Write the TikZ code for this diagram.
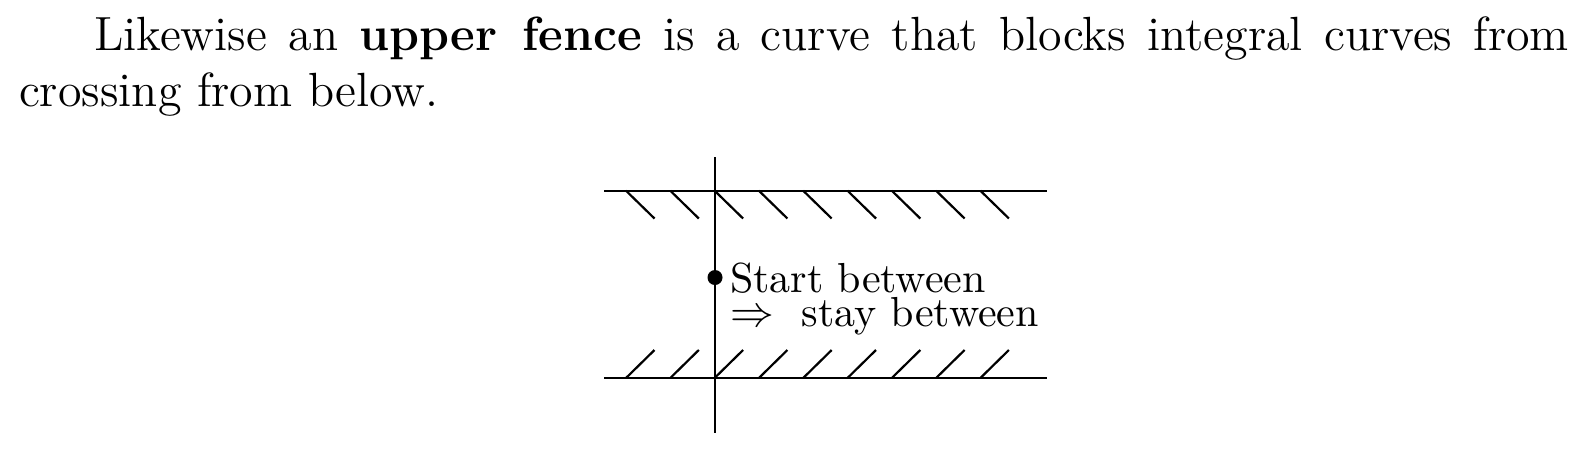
\documentclass[tikz,border=0pt]{standalone}
\begin{document}
\begin{tikzpicture}[x=0.25pt,y=-0.25pt,line width=0.55pt,
  bodytext/.style={anchor=base west,inner sep=0pt,font=\fontsize{12}{14}\selectfont},
  labeltext/.style={anchor=base west,inner sep=0pt,align=left,font=\fontsize{10.5}{8.5}\selectfont},
  fenceline/.style={draw=black,line width=0.55pt},
  hatchline/.style={draw=black,line width=0.55pt},
  dotnode/.style={circle,fill=black,inner sep=0pt,minimum size=3.75pt}]
\useasboundingbox (0,0) rectangle (1586,453);
% paragraph
\node[bodytext] (line1) at (93,50) {\hbox to 368.75pt{Likewise an \textbf{upper fence} is a curve that blocks integral curves from}};
\node[bodytext] (line2) at (18,106) {crossing from below.};
% axis
\coordinate (vtop) at (715,157);
\coordinate (vbot) at (715,433);
\draw (vtop) -- (vbot);
% fences
\coordinate (upL) at (604,190.7);
\coordinate (upR) at (1047,190.7);
\coordinate (loL) at (604,378);
\coordinate (loR) at (1047,378);
\path[fenceline] (upL) -- (upR);
\path[fenceline] (loL) -- (loR);
\foreach \i in {0,...,8}{
  \coordinate (ua\i) at ({626+44.3*\i},190.7);
  \coordinate (ub\i) at ({626+44.3*\i+28.5},218.5);
  \path[hatchline] (ua\i) -- (ub\i);
  \coordinate (la\i) at ({626+44.3*\i},378);
  \coordinate (lb\i) at ({626+44.3*\i+28.5},350);
  \path[hatchline] (la\i) -- (lb\i);
}
% start point
\node[dotnode] (dot) at (715,277.5) {};
\node[labeltext] (lab) at (729,326) {Start between\\$\Rightarrow$\ \ stay between};
\end{tikzpicture}
\end{document}
